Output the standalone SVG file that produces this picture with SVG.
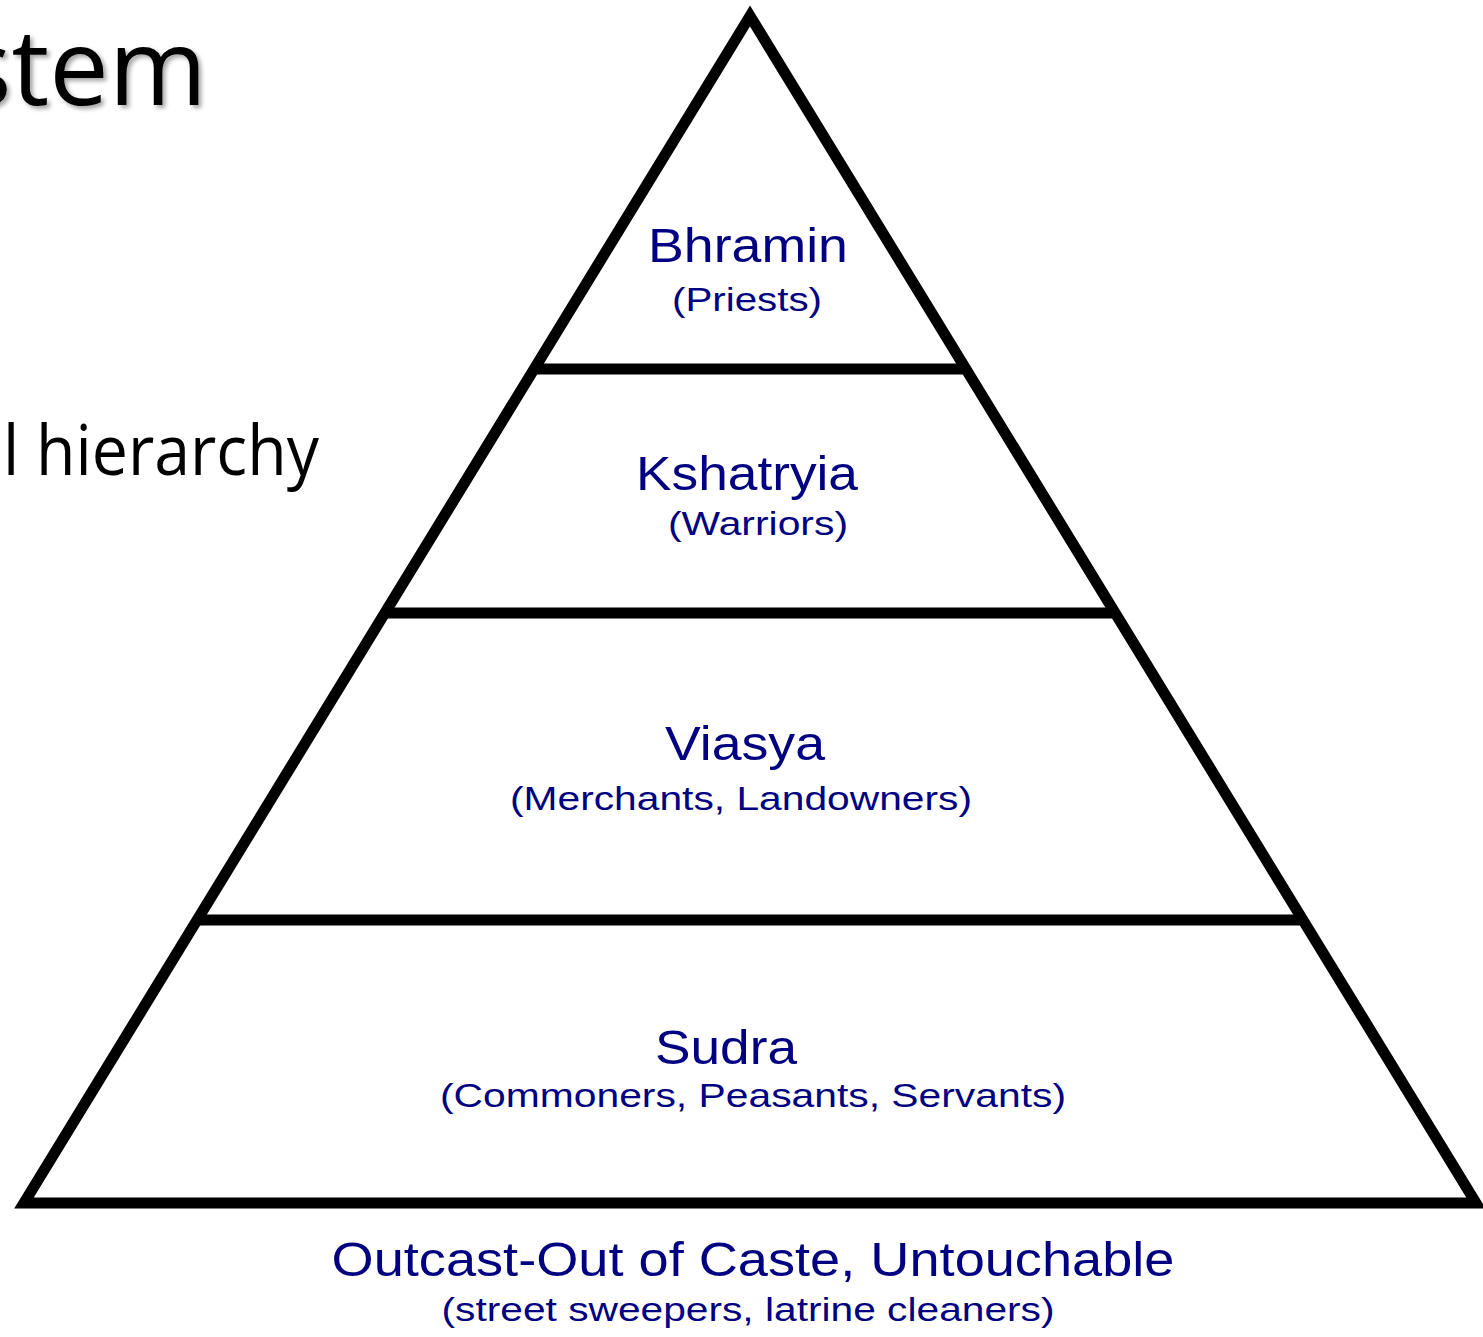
<svg xmlns="http://www.w3.org/2000/svg" width="1483" height="1337" viewBox="0 0 1483 1337">
<defs>
<style>
.edge{fill:none;stroke:#000;stroke-width:11;stroke-linejoin:miter;stroke-miterlimit:10}
.band{stroke:#000;stroke-width:11}
.title{font-family:"Open Sans","Liberation Sans",sans-serif;fill:#000}
.big{font-family:"Liberation Sans",Arial,sans-serif;fill:#000080;font-size:49px;text-anchor:middle}
.small{font-family:"Liberation Sans",Arial,sans-serif;fill:#000080;font-size:34px;text-anchor:middle}
</style>
<filter id="sh" x="-10%" y="-10%" width="130%" height="130%">
<feDropShadow dx="3" dy="3" stdDeviation="2" flood-color="#000" flood-opacity="0.35"/>
</filter>
</defs>
<rect width="1483" height="1337" fill="#fff"/>
<g id="title-text">
<text class="title" x="207" y="105" font-size="106" text-anchor="end" filter="url(#sh)">stem</text>
<text class="title" x="3" y="475" font-size="70" textLength="316" lengthAdjust="spacingAndGlyphs">l hierarchy</text>
</g>
<g id="connectors">
<polygon class="edge" points="750,16 24,1203 1476,1203"/>
<line class="band" x1="533" y1="369" x2="967" y2="369"/>
<line class="band" x1="385" y1="613" x2="1115" y2="613"/>
<line class="band" x1="197" y1="920" x2="1303" y2="920"/>
</g>
<g id="node-bhramin">
<text class="big" x="748" y="262" textLength="200" lengthAdjust="spacingAndGlyphs">Bhramin</text>
<text class="small" x="747" y="311" textLength="150" lengthAdjust="spacingAndGlyphs">(Priests)</text>
</g>
<g id="node-kshatryia">
<text class="big" x="747" y="490" textLength="222" lengthAdjust="spacingAndGlyphs">Kshatryia</text>
<text class="small" x="758" y="535" textLength="180" lengthAdjust="spacingAndGlyphs">(Warriors)</text>
</g>
<g id="node-viasya">
<text class="big" x="745" y="760" textLength="160" lengthAdjust="spacingAndGlyphs">Viasya</text>
<text class="small" x="741" y="810" textLength="462" lengthAdjust="spacingAndGlyphs">(Merchants, Landowners)</text>
</g>
<g id="node-sudra">
<text class="big" x="726" y="1064" textLength="142" lengthAdjust="spacingAndGlyphs">Sudra</text>
<text class="small" x="753" y="1107" textLength="626" lengthAdjust="spacingAndGlyphs">(Commoners, Peasants, Servants)</text>
</g>
<g id="node-outcast">
<text class="big" x="753" y="1276" font-size="46" textLength="843" lengthAdjust="spacingAndGlyphs">Outcast-Out of Caste, Untouchable</text>
<text class="small" x="748" y="1321" textLength="613" lengthAdjust="spacingAndGlyphs">(street sweepers, latrine cleaners)</text>
</g>
</svg>
